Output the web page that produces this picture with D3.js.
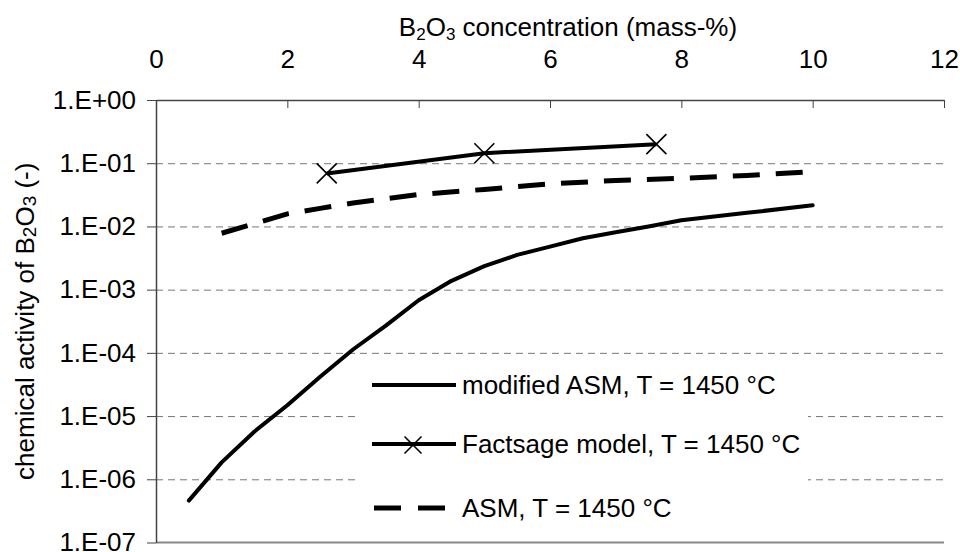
<!DOCTYPE html>
<html>
<head>
<meta charset="utf-8">
<script src="https://cdn.jsdelivr.net/npm/d3@7"></script>
<style>
  body { margin: 0; background: #fff; }
  svg { display: block; font-family: "Liberation Sans", Arial, sans-serif; }
  .axis path, .axis line { stroke: #444; }
  .grid line { stroke: #777; stroke-dasharray: 7,5; }
</style>
</head>
<body>
<svg id="chart" width="960" height="552"></svg>
<script>
// mass-% B2O3 and chemical activity
var modX = [0.5, 1.0, 1.5, 2.0, 2.5, 3.0, 3.5, 4.0, 4.5, 5.0, 5.5, 6.0, 6.5, 7.0, 7.5, 8.0, 9.0, 10.0];
var modA = [4.6e-7, 1.85e-6, 5.7e-6, 1.48e-5, 4.2e-5, 1.13e-4, 2.7e-4, 6.8e-4, 1.38e-3, 2.35e-3, 3.55e-3, 4.8e-3, 6.5e-3, 8.1e-3, 1.0e-2, 1.25e-2, 1.64e-2, 2.16e-2];

var factX = [2.6, 5.0, 7.62];
var factA = [0.069, 0.144, 0.20];

var asmX = [1.0, 1.5, 2.0, 2.5, 3.0, 4.0, 5.0, 6.0, 7.0, 8.0, 9.0, 10.0];
var asmA = [7.8e-3, 0.0111, 0.0158, 0.0193, 0.0235, 0.032, 0.0385, 0.047, 0.0534, 0.0578, 0.064, 0.0736];

var xTicks = [0, 2, 4, 6, 8, 10, 12];
var yTicks = [1, 1e-1, 1e-2, 1e-3, 1e-4, 1e-5, 1e-6, 1e-7];
var legendNames = ["modified ASM, T = 1450 °C", "Factsage model, T = 1450 °C", "ASM, T = 1450 °C"];

function drawChart(){
  var left = 156, right = 944, top = 100, bottom = 542.5;
  var fs = "26px";
  var svg = d3.select("#chart");

  var x = d3.scaleLinear().domain([0, 12]).range([left, right]);
  var y = d3.scaleLog().domain([1e-7, 1]).range([bottom, top]);

  function sci(d){
    var e = Math.round(Math.log10(d));
    return "1.E" + (e < 0 ? "-" : "+") + String(Math.abs(e)).padStart(2, "0");
  }

  // dashed gridlines
  svg.append("g")
    .attr("class", "grid")
    .attr("transform", "translate(" + left + ",0)")
    .call(d3.axisLeft(y).tickValues(yTicks.slice(1, -1)).tickSize(-(right - left)).tickFormat(""))
    .select(".domain").remove();

  // bottom frame
  svg.append("line")
    .attr("x1", left).attr("x2", right)
    .attr("y1", bottom).attr("y2", bottom)
    .style("stroke", "#888").style("stroke-width", 2);

  var xAxis = svg.append("g")
    .attr("class", "axis x")
    .attr("transform", "translate(0," + top + ")")
    .call(d3.axisTop(x).tickValues(xTicks).tickSizeInner(-8).tickSizeOuter(0).tickPadding(32));
  xAxis.selectAll("text").style("font-size", fs).style("fill", "#000");

  var yAxis = svg.append("g")
    .attr("class", "axis y")
    .attr("transform", "translate(" + left + ",0)")
    .call(d3.axisLeft(y).tickValues(yTicks).tickFormat(sci).tickSize(9).tickPadding(11).tickSizeOuter(0));
  yAxis.selectAll("text").style("font-size", fs).style("fill", "#000");
  svg.selectAll(".axis .domain").style("stroke-width", 1.5);

  // axis titles
  var xt = svg.append("text")
    .attr("x", 568)
    .attr("y", 36)
    .style("text-anchor", "middle")
    .style("font-size", fs);
  xt.append("tspan").text("B");
  xt.append("tspan").text("2").attr("dy", 4).style("font-size", "17px");
  xt.append("tspan").text("O").attr("dy", -4);
  xt.append("tspan").text("3").attr("dy", 4).style("font-size", "17px");
  xt.append("tspan").text(" concentration (mass-%)").attr("dy", -4);

  var yt = svg.append("text")
    .attr("transform", "translate(34," + ((top + bottom) / 2) + ") rotate(-90)")
    .style("text-anchor", "middle")
    .style("font-size", fs);
  yt.append("tspan").text("chemical activity of B");
  yt.append("tspan").text("2").attr("dy", 2).style("font-size", "19px");
  yt.append("tspan").text("O").attr("dy", -2);
  yt.append("tspan").text("3").attr("dy", 2).style("font-size", "19px");
  yt.append("tspan").text(" (-)").attr("dy", -2);

  var line = d3.line()
    .x(function(d){ return x(d[0]); })
    .y(function(d){ return y(d[1]); });

  var modData = d3.zip(modX, modA);
  var factData = d3.zip(factX, factA);
  var asmData = d3.zip(asmX, asmA);

  svg.append("path")
    .datum(asmData)
    .attr("d", line)
    .style("fill", "none").style("stroke", "#000")
    .style("stroke-width", 5).style("stroke-dasharray", "27,16");

  svg.append("path")
    .datum(modData)
    .attr("d", line)
    .style("fill", "none").style("stroke", "#000")
    .style("stroke-width", 4).style("stroke-linejoin", "round").style("stroke-linecap", "round");

  svg.append("path")
    .datum(factData)
    .attr("d", line)
    .style("fill", "none").style("stroke", "#000")
    .style("stroke-width", 4);

  function cross(g, cx, cy, s){
    g.append("path")
      .attr("d", "M" + (cx - s) + "," + (cy - s) + "L" + (cx + s) + "," + (cy + s) +
                 "M" + (cx - s) + "," + (cy + s) + "L" + (cx + s) + "," + (cy - s))
      .style("stroke", "#000").style("stroke-width", 1.6).style("fill", "none");
  }
  var marks = svg.append("g");
  factData.forEach(function(d){ cross(marks, x(d[0]), y(d[1]), 10); });

  // legend
  var lg = svg.append("g");
  lg.append("rect")
    .attr("x", 358).attr("y", 362)
    .attr("width", 450).attr("height", 172)
    .style("fill", "#fff");
  var rowY = [385, 444, 508];
  legendNames.forEach(function(name, i){
    var ly = rowY[i];
    var s = lg.append("line")
      .attr("x1", 372).attr("x2", 456)
      .attr("y1", ly).attr("y2", ly)
      .style("stroke", "#000").style("stroke-width", i == 2 ? 5 : 4);
    if (i == 2) s.attr("x1", 374).attr("x2", 446).style("stroke-dasharray", "27,17");
    if (i == 1) cross(lg, 413, ly + 1, 8.5);
    lg.append("text")
      .attr("x", 462).attr("y", ly + 9)
      .style("font-size", fs)
      .text(name);
  });
}

drawChart();
</script>
</body>
</html>
